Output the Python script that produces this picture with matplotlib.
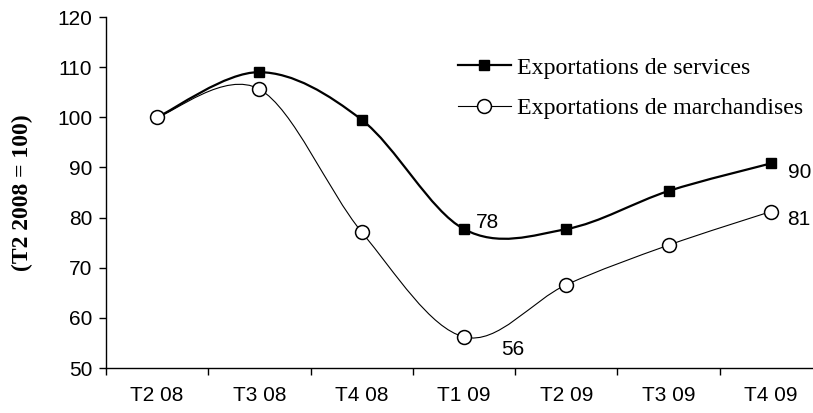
import numpy as np
import matplotlib
matplotlib.use("Agg")
import matplotlib.pyplot as plt
from matplotlib.path import Path
from matplotlib.patches import PathPatch
from matplotlib.lines import Line2D

# data
quarters = ["T2 08", "T3 08", "T4 08", "T1 09", "T2 09", "T3 09", "T4 09"]
services = [100, 109.0, 99.5, 77.7, 77.7, 85.3, 90.8]
marchandises = [100, 105.6, 77.1, 56.2, 66.6, 74.5, 81.2]
services_name = "Exportations de services"
marchandises_name = "Exportations de marchandises"
y_title = "(T2 2008 = 100)"


def smooth_path(xs, ys):
    # Excel style smoothed line (Catmull-Rom as cubic bezier)
    pts = np.column_stack([xs, ys]).astype(float)
    n = len(pts)
    verts = [pts[0]]
    codes = [Path.MOVETO]
    for i in range(n - 1):
        p0 = pts[max(i - 1, 0)]
        p1 = pts[i]
        p2 = pts[i + 1]
        p3 = pts[min(i + 2, n - 1)]
        verts += [p1 + (p2 - p0) / 6, p2 - (p3 - p1) / 6, p2]
        codes += [Path.CURVE4] * 3
    return Path(verts, codes)


fig = plt.figure(figsize=(8.13, 4.13), dpi=100)
ax = fig.add_axes([106 / 813, 45 / 413, 716 / 813, 351 / 413])

x = np.arange(len(quarters))

ax.add_patch(PathPatch(smooth_path(x, services), fill=False, edgecolor="black", lw=1.6, zorder=2))
ax.add_patch(PathPatch(smooth_path(x, marchandises), fill=False, edgecolor="black", lw=0.8, zorder=2))
ax.plot(x, services, ls="none", marker="s", ms=7.5, mfc="black", mec="black", zorder=3)
ax.plot(x, marchandises, ls="none", marker="o", ms=10, mfc="white", mec="black", mew=1.1, zorder=4)

ax.set_xlim(-0.5, len(quarters) - 0.5)
ax.set_ylim(50, 120)
ax.set_yticks(range(50, 121, 10))
ax.set_xticks(x)
ax.set_xticklabels(quarters)
ax.set_xticks(np.arange(-0.5, len(quarters)), minor=True)

for s in ["top", "right"]:
    ax.spines[s].set_visible(False)
for s in ["left", "bottom"]:
    ax.spines[s].set_linewidth(1.0)

ax.tick_params(axis="x", which="major", length=0, pad=13)
ax.tick_params(axis="x", which="minor", direction="out", length=5, width=1)
ax.tick_params(axis="y", direction="out", length=5, width=1, pad=5)
for lab in ax.get_xticklabels() + ax.get_yticklabels():
    lab.set_fontfamily("Liberation Sans")
    lab.set_fontsize(15)

ax.set_ylabel(y_title, fontfamily="Liberation Serif", fontweight="bold", fontsize=17, labelpad=17)

# value labels
lab_style = dict(fontfamily="Liberation Sans", fontsize=15, va="center", ha="left",
                 textcoords="offset points")
ax.annotate("78", (3, services[3]), xytext=(8.5, 5), **lab_style)
ax.annotate("56", (3, marchandises[3]), xytext=(27, -9), **lab_style)
ax.annotate("90", (6, services[6]), xytext=(12, -6.5), **lab_style)
ax.annotate("81", (6, marchandises[6]), xytext=(12, -6), **lab_style)

handles = [
    Line2D([], [], color="black", lw=1.6, marker="s", ms=7.5, mfc="black"),
    Line2D([], [], color="black", lw=0.8, marker="o", ms=10, mfc="white", mew=1.1),
]
leg = ax.legend(handles, [services_name, marchandises_name], loc="upper left",
                bbox_to_anchor=(352 / 716, 1 - 40 / 351), frameon=False,
                prop={"family": "Liberation Serif", "size": 17.2},
                handlelength=2.2, handletextpad=0.25, labelspacing=0.78,
                borderpad=0, borderaxespad=0)

fig.savefig("out.png", dpi=100)
